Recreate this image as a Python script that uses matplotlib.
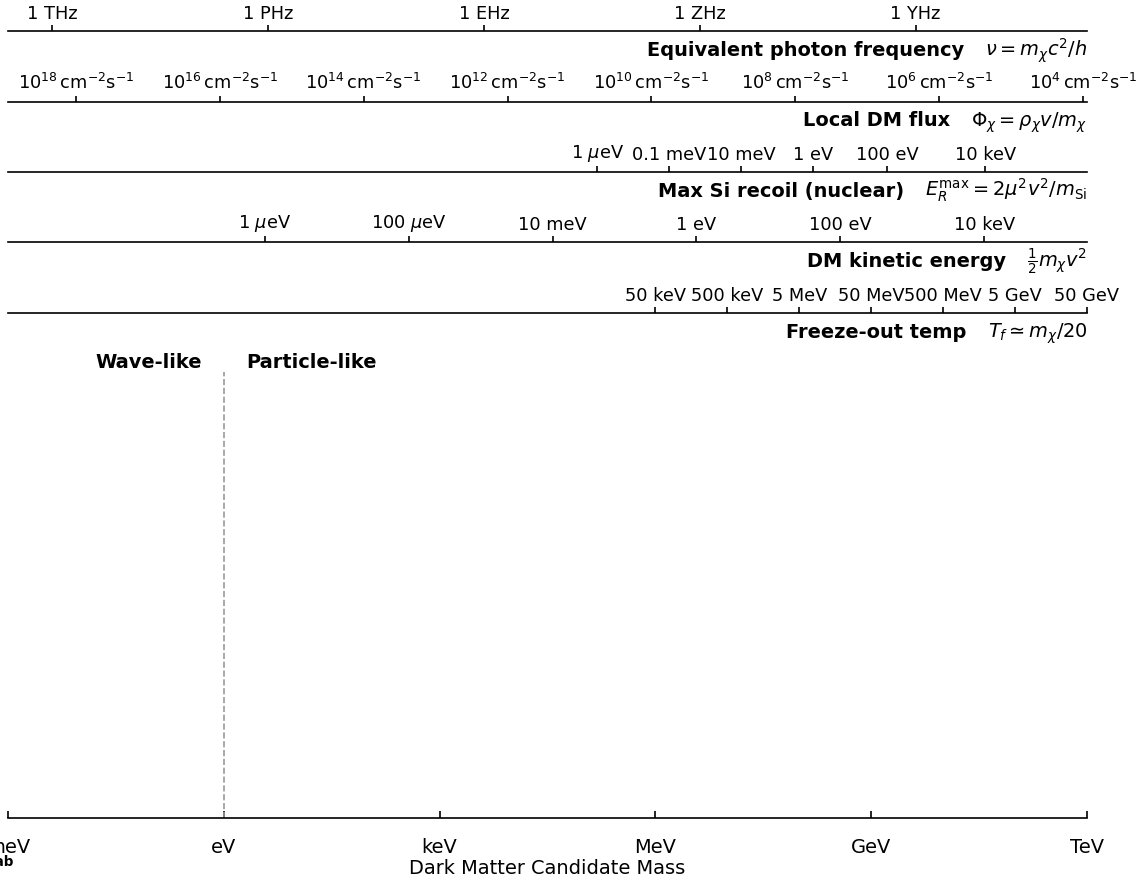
import numpy as np
import matplotlib
matplotlib.use("Agg")
import matplotlib.pyplot as plt
import matplotlib.ticker as mticker
import matplotlib.transforms as mtransforms

# --- physical inputs (energies in eV) ---
H_EV_S = 4.135667e-15            # Planck constant [eV s]
RHO_DM = 0.4e9                   # local DM density [eV / cm^3]
V_DM_CM_S = 2.2e7                # 220 km/s in cm/s
V_OVER_C = 220.0 / 299792.458
M_SI = 28.0855 * 0.93149e9       # silicon nucleus mass [eV]
FREEZE_OUT_RATIO = 20.0

# --- main mass axis ---
mass_range = (1e-3, 1e12)
mass_ticks = [1e-3, 1e0, 1e3, 1e6, 1e9, 1e12]
mass_labels = ["meV", "eV", "keV", "MeV", "GeV", "TeV"]
wave_particle_boundary = 1.0     # eV

# --- secondary scales ---
freq_ticks = [1e12, 1e15, 1e18, 1e21, 1e24]
freq_labels = ["1 THz", "1 PHz", "1 EHz", "1 ZHz", "1 YHz"]

flux_exponents = [18, 16, 14, 12, 10, 8, 6, 4]
flux_ticks = [10.0 ** e for e in flux_exponents]
flux_labels = [r"$10^{%d}\,\mathrm{cm^{-2}s^{-1}}$" % e for e in flux_exponents]

recoil_ticks = [1e-6, 1e-4, 1e-2, 1e0, 1e2, 1e4]
recoil_labels = [r"1 $\mu$eV", "0.1 meV", "10 meV", "1 eV", "100 eV", "10 keV"]

kinetic_ticks = [1e-6, 1e-4, 1e-2, 1e0, 1e2, 1e4]
kinetic_labels = [r"1 $\mu$eV", r"100 $\mu$eV", "10 meV", "1 eV", "100 eV", "10 keV"]

freeze_ticks = [5e4, 5e5, 5e6, 5e7, 5e8, 5e9, 5e10]
freeze_labels = ["50 keV", "500 keV", "5 MeV", "50 MeV", "500 MeV", "5 GeV", "50 GeV"]

row_titles = [
    "Equivalent photon frequency",
    "Local DM flux",
    "Max Si recoil (nuclear)",
    "DM kinetic energy",
    "Freeze-out temp",
]
row_formulas = [
    r"$\nu = m_\chi c^2/h$",
    r"$\Phi_\chi = \rho_\chi v/m_\chi$",
    r"$E_R^{\mathrm{max}} = 2\mu^2 v^2/m_{\mathrm{Si}}$",
    r"$\frac{1}{2}m_\chi v^2$",
    r"$T_f \simeq m_\chi/20$",
]


def mass_to_freq(m):
    return np.asarray(m, dtype=float) / H_EV_S


def freq_to_mass(f):
    return np.asarray(f, dtype=float) * H_EV_S


def mass_to_flux(m):
    with np.errstate(divide="ignore", invalid="ignore"):
        return RHO_DM * V_DM_CM_S / np.asarray(m, dtype=float)


def mass_to_recoil(m):
    m = np.asarray(m, dtype=float)
    with np.errstate(divide="ignore", invalid="ignore"):
        mu = m * M_SI / (m + M_SI)
        return 2.0 * mu ** 2 * V_OVER_C ** 2 / M_SI


def recoil_to_mass(e):
    e = np.clip(np.asarray(e, dtype=float), 0, None)
    with np.errstate(divide="ignore", invalid="ignore"):
        mu = np.sqrt(e * M_SI / (2.0 * V_OVER_C ** 2))
        mu = np.minimum(mu, 0.999999 * M_SI)
        return mu * M_SI / (M_SI - mu)


def mass_to_kinetic(m):
    return 0.5 * np.asarray(m, dtype=float) * V_OVER_C ** 2


def kinetic_to_mass(e):
    return 2.0 * np.asarray(e, dtype=float) / V_OVER_C ** 2


def mass_to_freeze(m):
    return np.asarray(m, dtype=float) / FREEZE_OUT_RATIO


def freeze_to_mass(t):
    return np.asarray(t, dtype=float) * FREEZE_OUT_RATIO


W, H, DPI = 1137, 879, 150
FS = 9.3
SEC_FS = 8.5
plt.rcParams["font.size"] = FS

fig = plt.figure(figsize=(W / DPI, H / DPI), dpi=DPI)
ax_bottom, ax_top = 818, 31.5
ax = fig.add_axes([8 / W, (H - ax_bottom) / H, 1079 / W, (ax_bottom - ax_top) / H])

ax.set_xscale("log")
ax.set_xlim(*mass_range)
ax.set_ylim(0, 1)
ax.set_xticks(mass_ticks, mass_labels)
ax.xaxis.set_minor_locator(mticker.NullLocator())
ax.tick_params(axis="x", direction="in", pad=9.5)
ax.set_yticks([])
for side in ["left", "right", "top"]:
    ax.spines[side].set_visible(False)
ax.set_xlabel("Dark Matter Candidate Mass", labelpad=1)

rows = [
    ((mass_to_freq, freq_to_mass), freq_ticks, freq_labels),
    ((mass_to_flux, mass_to_flux), flux_ticks, flux_labels),
    ((mass_to_recoil, recoil_to_mass), recoil_ticks, recoil_labels),
    ((mass_to_kinetic, kinetic_to_mass), kinetic_ticks, kinetic_labels),
    ((mass_to_freeze, freeze_to_mass), freeze_ticks, freeze_labels),
]
row_px = [31.5, 101.7, 172.0, 242.5, 313.2]

renderer = fig.canvas.get_renderer()
for (funcs, ticks, labels), y_px, title, formula in zip(rows, row_px, row_titles, row_formulas):
    loc = (ax_bottom - y_px) / (ax_bottom - ax_top)
    sec = ax.secondary_xaxis(loc, functions=funcs)
    sec.set_xticks(ticks, labels)
    sec.xaxis.set_minor_locator(mticker.NullLocator())
    sec.tick_params(axis="x", length=2.8, pad=1.2, labelsize=SEC_FS)

    trans = mtransforms.offset_copy(ax.transAxes, fig=fig, y=-24.5, units="dots")
    ftxt = ax.text(1.0, loc, formula, transform=trans, ha="right", va="baseline")
    width = ftxt.get_window_extent(renderer).width
    trans_b = mtransforms.offset_copy(ax.transAxes, fig=fig, x=-(width + 21), y=-24.5, units="dots")
    ax.text(1.0, loc, title, transform=trans_b, ha="right", va="baseline", fontweight="bold")

# wave / particle boundary
split_top = (ax_bottom - 372) / (ax_bottom - ax_top)
ax.axvline(wave_particle_boundary, ymin=0, ymax=split_top, color="#999999",
           linestyle="--", linewidth=0.8)
label_y = (ax_bottom - 362) / (ax_bottom - ax_top)
blend = mtransforms.blended_transform_factory(ax.transData, ax.transAxes)
ax.text(wave_particle_boundary, label_y, "Wave-like",
        transform=mtransforms.offset_copy(blend, fig=fig, x=-22, units="dots"),
        ha="right", va="center", fontweight="bold")
ax.text(wave_particle_boundary, label_y, "Particle-like",
        transform=mtransforms.offset_copy(blend, fig=fig, x=22, units="dots"),
        ha="left", va="center", fontweight="bold")

fig.text(14 / W, (H - 862) / H, "Lab", ha="right", va="center",
         fontsize=6.5, fontweight="bold")

fig.savefig("out.png", dpi=DPI)
